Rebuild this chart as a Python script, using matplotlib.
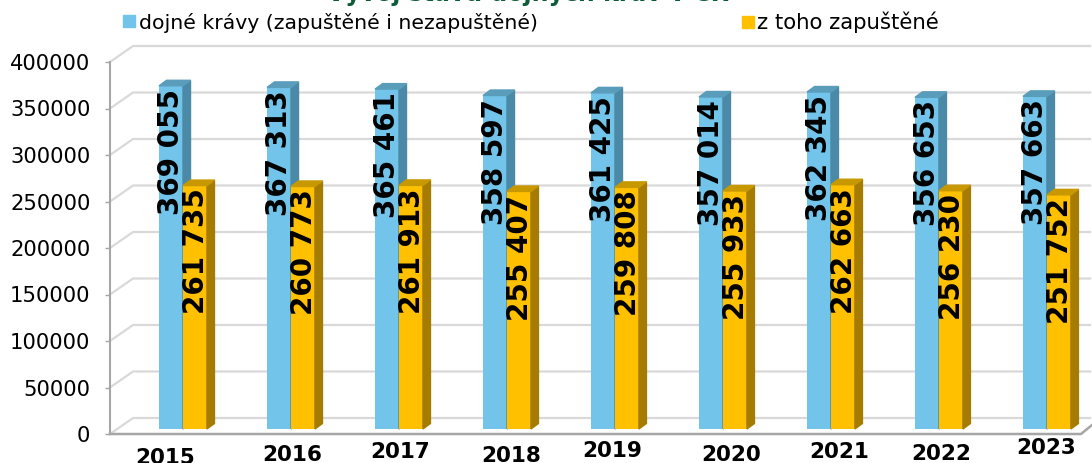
import matplotlib.pyplot as plt
import matplotlib.transforms as mtransforms
from matplotlib.patches import Polygon, Rectangle
from matplotlib.lines import Line2D

# data
years = ['2015', '2016', '2017', '2018', '2019', '2020', '2021', '2022', '2023']
dairy_cows = [369055, 367313, 365461, 358597, 361425, 357014, 362345, 356653, 357663]
inseminated = [261735, 260773, 261913, 255407, 259808, 255933, 262663, 256230, 251752]
series_labels = ['dojné krávy (zapuštěné i nezapuštěné)', 'z toho zapuštěné']
title = 'Vývoj stavu dojných krav v ČR'
y_ticks = list(range(0, 400001, 50000))

# small per-label nudges (pixels) of the year labels, as in the 3D original
year_dx = [-18, 1, 1, 4, -3, 8, 8, 2, -1]
year_dy = [24, 21, 18, 22, 17, 21, 18, 20, 14]

W, H = 1092, 463
fig = plt.figure(figsize=(W / 100, H / 100), dpi=100)
ax = fig.add_axes([110 / W, 29 / H, 970 / W, 372 / H])
ax.set_xlim(-0.676, 8.306)
ax.set_ylim(0, 400000)
ident = mtransforms.IdentityTransform()


def shift(dx, dy):
    return mtransforms.ScaledTranslation(dx / 100, dy / 100, fig.dpi_scale_trans)


def to_px(x, y):
    return ax.transData.transform((x, y))


# back wall gridlines + floor
grid_col = '#d9d9d9'
for v in y_ticks:
    y = to_px(0, v)[1]
    ax.add_line(Line2D([110, 133, 1090], [y, y + 16, y + 16], color=grid_col,
                       lw=1.6, transform=ident, clip_on=False, zorder=0))
y0 = to_px(0, 0)[1]
ax.add_line(Line2D([110, 1081, 1092], [y0, y0, y0 + 9], color='#a6a6a6',
                   lw=1.8, transform=ident, clip_on=False, zorder=1))

# bars with 3D-ish side and top faces
bw = 0.222
lift = 5
depth = (7.5, 5.5)
series = [
    (dairy_cows, '#72C4EA', '#4B8AA6', '#5A9DBB', 0),
    (inseminated, '#FFC000', '#A67C00', '#C89800', 1),
]
for k, (vals, front, side, top, j) in enumerate(series):
    xs = [i - bw + j * bw for i in range(len(years))]
    bars = ax.bar(xs, vals, width=bw, align='edge', color=front, zorder=3 + k)
    for b in bars:
        b.set_transform(ax.transData + shift(0, lift))
    for x, v in zip(xs, vals):
        xl, yb = to_px(x, 0)
        xr, yt = to_px(x + bw, v)
        yt += lift
        dx, dy = depth
        ax.add_patch(Polygon([(xr, yb + lift), (xr, yt), (xr + dx, yt + dy), (xr + dx, yb + lift + dy)],
                             closed=True, color=side, transform=ident, zorder=3 + k, clip_on=False))
        ax.add_patch(Polygon([(xl, yt), (xr, yt), (xr + dx, yt + dy), (xl + dx, yt + dy)],
                             closed=True, color=top, transform=ident, zorder=3 + k, clip_on=False))
        ax.text(x + bw / 2 + 0.01 * j, v, f'{v:,}'.replace(',', ' '), rotation=90, ha='center', va='top',
                fontsize=20, fontweight='bold', color='black', zorder=10,
                transform=ax.transData + shift(0, lift - 3))

# axes styling
for s in ['top', 'right', 'bottom']:
    ax.spines[s].set_visible(False)
ax.spines['left'].set_color('#a6a6a6')
ax.spines['left'].set_linewidth(1.5)
ax.set_xticks([])
ax.set_yticks(y_ticks)
ax.set_yticklabels([str(v) for v in y_ticks])
ax.tick_params(axis='y', length=3.6, width=1, color='#a6a6a6', pad=10.5, labelsize=15.2)

for i, yr in enumerate(years):
    ax.text(i, 0, yr, ha='center', va='center', fontsize=15.5, fontweight='bold',
            transform=ax.transData + shift(year_dx[i], -year_dy[i]))

# legend (manual, laid out like the original)
fig.add_artist(Rectangle((123, H - 27), 12, 12, color='#72C4EA', transform=ident))
fig.add_artist(Rectangle((742, H - 28), 12, 12, color='#FFC000', transform=ident))
fig.text(139 / W, (H - 29) / H, series_labels[0], fontsize=14.7, va='baseline', ha='left')
fig.text(757 / W, (H - 29) / H, series_labels[1], fontsize=15.3, va='baseline', ha='left')

# title is cut off at the top of the image
fig.text(528 / W, (H - 1) / H, title, fontsize=17, fontweight='bold', color='#0E5B37',
         ha='center', va='baseline')

fig.savefig('out.png', dpi=100)
